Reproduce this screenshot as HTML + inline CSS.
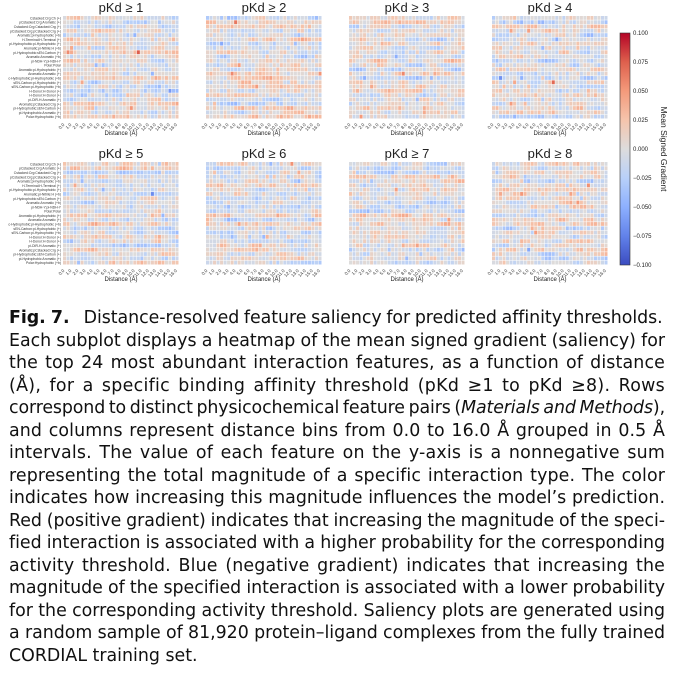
<!DOCTYPE html>
<html><head><meta charset="utf-8">
<style>
html,body{margin:0;padding:0;background:#fff;}
body{width:682px;height:679px;position:relative;overflow:hidden;font-family:"Liberation Sans",sans-serif;}
#fig{position:absolute;left:0;top:0;}
.cap{position:absolute;left:9px;display:inline-block;font-family:"DejaVu Sans",sans-serif;font-size:17.4px;color:#111;white-space:nowrap;line-height:1;}
</style></head><body>
<svg id="fig" width="682" height="300" xmlns="http://www.w3.org/2000/svg" font-family="Liberation Sans, sans-serif">
<defs>
<linearGradient id="cb" x1="0" y1="1" x2="0" y2="0">
<stop offset="0" stop-color="#3b4cc0"/>
<stop offset="0.125" stop-color="#6282ea"/>
<stop offset="0.25" stop-color="#8db0fe"/>
<stop offset="0.375" stop-color="#b8d0f9"/>
<stop offset="0.5" stop-color="#dddcdc"/>
<stop offset="0.625" stop-color="#f5c4ac"/>
<stop offset="0.75" stop-color="#f49a7b"/>
<stop offset="0.875" stop-color="#de604d"/>
<stop offset="1" stop-color="#b40426"/>
</linearGradient>
</defs>
<g id="maps"></g>
<rect x="620" y="33" width="10" height="232" fill="url(#cb)" stroke="#333" stroke-width="0.6"/>
<g font-size="6" fill="#222">
<text x="633" y="35">0.100</text>
<text x="633" y="64">0.075</text>
<text x="633" y="93">0.050</text>
<text x="633" y="122">0.025</text>
<text x="633" y="151">0.000</text>
<text x="633" y="180">−0.025</text>
<text x="633" y="209">−0.050</text>
<text x="633" y="238">−0.075</text>
<text x="633" y="267">−0.100</text>
</g>
<text x="0" y="0" font-size="8.5" fill="#222" transform="translate(661,149) rotate(90)" text-anchor="middle">Mean Signed Gradient</text>
</svg>

<div class="cap" style="top:310px"><b>Fig. 7.</b>&nbsp;&nbsp;&nbsp;Distance-resolved feature saliency for predicted affinity thresholds.</div>
<div class="cap" style="top:332.5px">Each subplot displays a heatmap of the mean signed gradient (saliency) for</div>
<div class="cap" style="top:355px">the top 24 most abundant interaction features, as a function of distance</div>
<div class="cap" style="top:377.5px">(Å), for a specific binding affinity threshold (pKd ≥1 to pKd ≥8). Rows</div>
<div class="cap" style="top:400px">correspond to distinct physicochemical feature pairs (<i>Materials and Methods</i>),</div>
<div class="cap" style="top:422.5px">and columns represent distance bins from 0.0 to 16.0 Å grouped in 0.5 Å</div>
<div class="cap" style="top:445px">intervals. The value of each feature on the y-axis is a nonnegative sum</div>
<div class="cap" style="top:467.5px">representing the total magnitude of a specific interaction type. The color</div>
<div class="cap" style="top:490px">indicates how increasing this magnitude influences the model’s prediction.</div>
<div class="cap" style="top:512.5px">Red (positive gradient) indicates that increasing the magnitude of the speci-</div>
<div class="cap" style="top:535px">fied interaction is associated with a higher probability for the corresponding</div>
<div class="cap" style="top:557.5px">activity threshold. Blue (negative gradient) indicates that increasing the</div>
<div class="cap" style="top:580px">magnitude of the specified interaction is associated with a lower probability</div>
<div class="cap" style="top:602.5px">for the corresponding activity threshold. Saliency plots are generated using</div>
<div class="cap" style="top:625px">a random sample of 81,920 protein–ligand complexes from the fully trained</div>
<div class="cap last" style="top:647.5px">CORDIAL training set.</div>

<script>
(function(){
var NS="http://www.w3.org/2000/svg";
var g=document.getElementById("maps");
var seed=12345;
function rnd(){seed=(seed*1103515245+12345)&0x7fffffff;return seed/0x7fffffff;}
var stops=[[59,76,192],[98,130,234],[141,176,254],[184,208,249],[221,220,220],[245,196,172],[244,154,123],[222,96,77],[180,4,38]];
function col(v){var t=(v+0.1)/0.2;t=Math.max(0,Math.min(1,t));var p=t*8,i=Math.min(7,Math.floor(p)),f=p-i;
var a=stops[i],b=stops[i+1];return "rgb("+[0,1,2].map(function(k){return Math.round(a[k]+(b[k]-a[k])*f)}).join(",")+")";}
function el(n,a,txt){var e=document.createElementNS(NS,n);for(var k in a)e.setAttribute(k,a[k]);if(txt)e.textContent=txt;g.appendChild(e);return e;}
var labels=["Cstacked:Crg:Ch (+)","pCstacked:Crg:Aromatic (+)","Cstacked:Crg:Cstacked:Crg (+)","pCstacked:Crg:pCstacked:Crg (+)","Aromatic:pi-hydrophobic (+b)","H-Terminal:H-Terminal (+)","pi-Hydrophobic:pi-Hydrophobic (+)","Aromatic:pi-Nitrile:H (+b)","pi-Hydrophobic:sEN-Carbon (+)","Aromatic:Aromatic (+b)","pi-NDH-Y:pi-NDH-Y","Polar:Polar","Aromatic:pi-Hydrophobic (+)","Aromatic:Aromatic (+)","c-Hydrophobic:pi-Hydrophobic (+b)","sEN-Carbon:pi-Hydrophobic (+)","sEN-Carbon:pi-Hydrophobic (+b)","H-Donor:H-Donor (+)","H-Donor:H-Donor (+)","pi-DIR-H:Aromatic (+)","Aromatic:pCstacked:Crg (+)","pi-Hydrophobic:sEN-Carbon (+)","pi-Hydrophobic:Aromatic (+)","Polar:Hydrophobic (+b)"];
var titles=["pKd ≥ 1","pKd ≥ 2","pKd ≥ 3","pKd ≥ 4","pKd ≥ 5","pKd ≥ 6","pKd ≥ 7","pKd ≥ 8"];
var X0=[63,206,349,492],Y0=[16,162];
var W=116,H=103,NC=33,NR=24,cw=W/NC,ch=H/NR;
for(var p=0;p<8;p++){
 var x0=X0[p%4],y0=Y0[Math.floor(p/4)];
 el("text",{x:x0+W/2,y:y0-4,"font-size":"13","text-anchor":"middle",fill:"#222"},titles[p]);
 for(var r=0;r<NR;r++){
  var rowBias=(rnd()-0.5)*0.03;
  var prev=0;
  for(var c=0;c<NC;c++){
   var v=rowBias+0.55*prev+(rnd()-0.5)*0.04;
   prev=v-rowBias;
   if(rnd()<0.05)v+=(rnd()-0.5)*0.08;
   el("rect",{x:(x0+c*cw).toFixed(2),y:(y0+r*ch).toFixed(2),width:(cw-0.5).toFixed(2),height:(ch-0.5).toFixed(2),fill:col(v)});
  }
  if(p%4==0)el("text",{x:x0-2,y:(y0+r*ch+ch*0.8).toFixed(2),"font-size":"3.4","text-anchor":"end",fill:"#333"},labels[r]);
 }
 for(var t=0;t<=16;t++){
  var tx=x0+(2*t+0.5)*cw,ty=y0+H+6;
  el("text",{x:tx,y:ty,"font-size":"4.5","text-anchor":"end",fill:"#333",transform:"rotate(-45 "+tx+" "+ty+")"},t.toFixed(1));
 }
 el("text",{x:x0+W/2,y:y0+H+16,"font-size":"6","text-anchor":"middle",fill:"#222"},"Distance (Å)");
}
var caps=document.querySelectorAll(".cap");
for(var i=0;i<caps.length;i++){
 var d=caps[i];
 if(d.classList.contains("last"))continue;
 var target=656;
 var txt=d.textContent;
 var nch=txt.length;
 var w=d.getBoundingClientRect().width;
 var ls=(target-w)*0.4/nch;
 d.style.letterSpacing=ls+"px";
 w=d.getBoundingClientRect().width;
 var words=txt.split(" ").length-1;
 if(words>0)d.style.wordSpacing=((target-w)/words)+"px";
 w=d.getBoundingClientRect().width;
 if(w>target+0.5){d.style.transformOrigin="0 0";d.style.transform="scaleX("+(target/w)+")";}
}
})();
</script>
</body></html>
